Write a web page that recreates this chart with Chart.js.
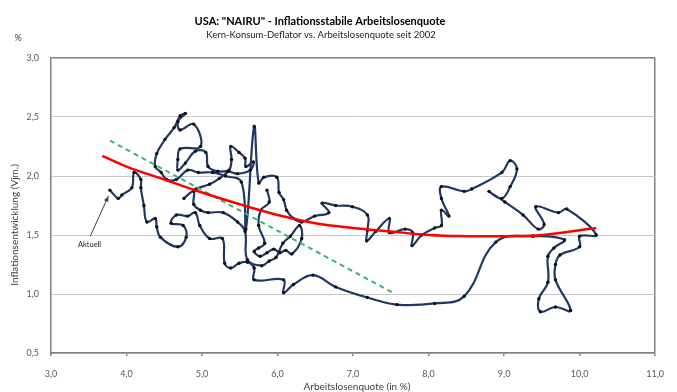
<!DOCTYPE html>
<html>
<head>
<meta charset="utf-8">
<script src="https://cdn.jsdelivr.net/npm/chart.js@4/dist/chart.umd.min.js"></script>
<style>
  html, body { margin: 0; padding: 0; background: #fff; }
  canvas { display: block; }
</style>
</head>
<body>
<canvas id="nairu" width="677" height="392"></canvas>
<script>
// Texte
var titel = 'USA: "NAIRU" - Inflationsstabile Arbeitslosenquote';
var untertitel = 'Kern-Konsum-Deflator vs. Arbeitslosenquote seit 2002';
var yTitel = 'Inflationsentwicklung (Vjm.)';
var xTitel = 'Arbeitslosenquote (in %)';

// Verlauf: Arbeitslosenquote (x) und Kern-PCE Vjm. (y), seit 2002 bis aktuell
var arbeitslosen = [5.86,5.89,5.78,5.75,5.83,5.75,5.69,5.77,5.86,5.95,6.03,6.11,6.19,6.32,6.29,6.17,6.07,5.98,5.89,5.79,
  5.60,5.57,5.47,5.28,5.08,4.98,4.89,4.89,4.76,4.92,5.10,5.23,5.36,5.39,5.38,5.49,5.57,5.58,5.68,5.64,
  5.47,5.34,5.21,5.08,5.05,4.91,4.78,4.68,4.68,4.71,4.98,4.89,4.71,4.68,4.78,4.71,4.63,4.51,4.40,4.38,
  4.46,4.53,4.66,4.81,4.95,5.14,5.31,5.52,5.58,5.69,5.75,5.82,5.99,6.02,6.08,6.12,6.21,6.32,6.49,6.68,
  6.59,6.77,6.99,7.19,7.19,7.18,7.30,7.48,7.48,7.69,7.79,7.78,7.91,8.08,8.17,8.17,8.27,8.17,8.17,8.47,
  8.57,8.97,9.08,9.17,9.08,8.97,8.80,9.01,9.25,9.45,9.53,9.42,9.72,9.83,10.22,10.00,10.00,9.74,9.68,9.68,
  9.88,9.68,9.48,9.46,9.58,9.58,9.66,9.80,9.38,8.89,8.47,8.08,7.58,7.19,6.77,6.47,6.21,6.08,6.08,5.69,
  5.69,5.60,5.49,5.38,5.30,5.27,5.10,4.97,4.91,4.81,4.66,4.59,4.75,4.79,4.68,4.45,4.40,4.38,4.27,4.23,
  4.19,4.19,4.10,4.07,3.94,3.89,3.78];
var inflation = [1.88,1.78,1.71,1.58,1.43,1.39,1.36,1.32,1.35,1.38,1.35,1.37,1.34,1.47,1.58,1.49,1.43,1.31,1.28,1.24,
  1.29,1.53,1.61,1.69,1.69,1.71,1.76,1.87,1.81,1.89,1.93,1.98,2.05,2.14,2.25,2.20,2.15,2.08,2.12,2.05,
  2.02,2.04,2.04,2.08,2.20,2.21,2.11,2.05,2.14,2.23,2.25,2.44,2.39,2.46,2.53,2.51,2.41,2.31,2.19,2.08,
  2.03,1.97,1.97,2.05,2.03,2.03,2.00,1.95,1.55,2.42,1.94,1.99,1.99,1.86,1.80,1.71,1.64,1.61,1.66,1.69,
  1.77,1.75,1.74,1.67,1.54,1.45,1.53,1.64,1.52,1.55,1.52,1.41,1.50,1.56,1.58,1.71,1.66,1.81,1.91,1.87,
  1.89,2.03,2.13,2.06,1.91,1.81,1.87,1.78,1.67,1.55,1.59,1.74,1.69,1.72,1.50,1.49,1.40,1.33,1.25,1.12,
  0.86,0.89,0.85,0.96,1.10,1.32,1.39,1.46,1.49,1.44,0.98,0.92,0.91,0.97,1.06,1.16,1.08,1.01,1.12,1.12,
  1.22,1.27,1.26,1.22,1.26,1.47,1.47,1.58,1.69,1.66,1.67,1.60,1.58,1.48,1.40,1.48,1.57,1.64,1.61,1.75,
  1.90,1.97,2.03,1.90,1.84,1.81,1.88];

// Polynomischer Trend (rot)
var polyX = [3.68,4.0,4.5,5.0,5.5,6.0,6.5,7.0,7.5,8.0,8.5,9.0,9.5,10.0,10.22];
var polyY = [2.17,2.08,1.97,1.86,1.76,1.67,1.60,1.56,1.53,1.50,1.49,1.49,1.50,1.54,1.56];

// Linearer Trend (gruen, gestrichelt)
var linX = [3.78, 7.53];
var linY = [2.30, 1.01];

// Hinweis "Aktuell"
var pfeilVon = [3.52, 1.49];
var pfeilBis = [3.76, 1.83];
var hinweisPos = [3.51, 1.42];

function zuPunkten(xs, ys) {
  var out = [];
  for (var i = 0; i < xs.length; i++) out.push({x: xs[i], y: ys[i]});
  return out;
}
function komma(v) { return v.toFixed(1).replace('.', ','); }

var beschriftung = {
  id: 'beschriftung',
  afterDraw: function(chart) {
    var c = chart.ctx, sx = chart.scales.x, sy = chart.scales.y;
    c.save();
    c.textAlign = 'center';
    c.textBaseline = 'middle';
    c.fillStyle = '#000';
    c.font = 'bold 11px Lato';
    c.fillText(titel, 320, 21);
    c.font = '9.5px Lato';
    c.fillStyle = '#222';
    c.fillText(untertitel, 321, 35);
    c.fillStyle = '#404040';
    c.font = '9px Lato';
    c.fillText('%', 18, 38);
    c.font = '10px Lato';
    c.fillText(xTitel, 357, 387);
    c.save();
    c.translate(15, 225);
    c.rotate(-Math.PI / 2);
    c.fillText(yTitel, 0, 0);
    c.restore();

    // Pfeil zum aktuellen Wert
    var x0 = sx.getPixelForValue(pfeilVon[0]), y0 = sy.getPixelForValue(pfeilVon[1]);
    var x1 = sx.getPixelForValue(pfeilBis[0]), y1 = sy.getPixelForValue(pfeilBis[1]);
    c.strokeStyle = '#404040';
    c.fillStyle = '#404040';
    c.lineWidth = 1;
    c.beginPath(); c.moveTo(x0, y0); c.lineTo(x1, y1); c.stroke();
    var a = Math.atan2(y1 - y0, x1 - x0);
    c.beginPath();
    c.moveTo(x1, y1);
    c.lineTo(x1 - 6 * Math.cos(a - 0.4), y1 - 6 * Math.sin(a - 0.4));
    c.lineTo(x1 - 6 * Math.cos(a + 0.4), y1 - 6 * Math.sin(a + 0.4));
    c.closePath(); c.fill();
    c.font = '7.5px Lato';
    c.fillStyle = '#222';
    c.fillText('Aktuell', sx.getPixelForValue(hinweisPos[0]), sy.getPixelForValue(hinweisPos[1]));
    c.restore();
  }
};

new Chart(document.getElementById('nairu'), {
  type: 'scatter',
  data: {
    datasets: [
      {
        data: zuPunkten(arbeitslosen, inflation),
        showLine: true,
        tension: 0.4,
        borderColor: '#1f3864',
        borderWidth: 2.2,
        pointRadius: 1.7,
        pointBackgroundColor: '#111',
        pointBorderWidth: 0,
        order: 3
      },
      {
        data: zuPunkten(linX, linY),
        showLine: true,
        borderColor: '#3cb371',
        borderWidth: 2,
        borderDash: [5, 4],
        pointRadius: 0,
        order: 2
      },
      {
        data: zuPunkten(polyX, polyY),
        showLine: true,
        tension: 0.4,
        borderColor: '#ff0000',
        borderWidth: 2.5,
        pointRadius: 0,
        order: 1
      }
    ]
  },
  options: {
    responsive: false,
    animation: false,
    devicePixelRatio: 1,
    layout: { padding: { top: 58, right: 13, left: 0, bottom: 0 } },
    plugins: { legend: { display: false }, tooltip: { enabled: false }, title: { display: false } },
    scales: {
      x: {
        type: 'linear', min: 3, max: 11,
        ticks: { stepSize: 1, callback: komma, color: '#595959', font: { family: 'Lato', size: 9 }, padding: 13 },
        grid: {
          color: function(ctx) { return ctx.tick && ctx.tick.value === 11 ? '#808080' : 'rgba(0,0,0,0)'; },
          lineWidth: 1.5,
          drawTicks: true, tickLength: 3, tickColor: '#808080'
        },
        border: { color: '#808080', width: 1.5 },
        afterFit: function(s) { s.height = 39; }
      },
      y: {
        min: 0.5, max: 3,
        ticks: { stepSize: 0.5, callback: komma, color: '#595959', font: { family: 'Lato', size: 9 }, padding: 12 },
        grid: {
          color: function(ctx) { return ctx.tick && ctx.tick.value === 3 ? '#808080' : '#c8c8c8'; },
          lineWidth: function(ctx) { return ctx.tick && ctx.tick.value === 3 ? 1.5 : 1; },
          drawTicks: false
        },
        border: { color: '#808080', width: 1.5 },
        afterFit: function(s) { s.width = 51; }
      }
    }
  },
  plugins: [beschriftung]
});
</script>
</body>
</html>
